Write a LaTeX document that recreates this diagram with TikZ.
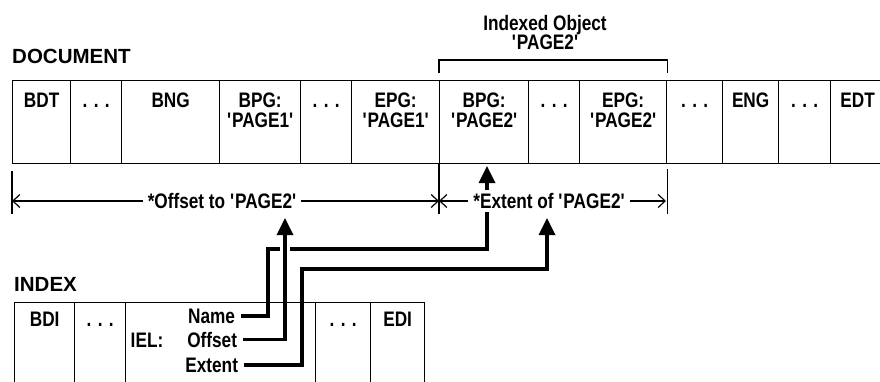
\documentclass[tikz,border=0pt]{standalone}
\usepackage{fontspec}
\setmainfont{Liberation Sans}
\newfontfamily\narrowsans{Liberation Sans}[FakeStretch=0.82]
\usetikzlibrary{positioning,arrows.meta}

\newcommand{\quoted}[1]{\textquotesingle#1'}

\begin{document}
\begin{tikzpicture}[
    x=1pt, y=-1pt,
    cell/.style={draw, line width=1.3pt, inner sep=0pt, minimum height=83pt, anchor=north west},
    icell/.style={draw, line width=1.3pt, inner sep=0pt, minimum height=100pt, anchor=north west},
    tag/.style={font=\narrowsans\bfseries\fontsize{21}{19.5}\selectfont, align=center, inner sep=0pt},
    field/.style={tag, outer xsep=6pt},
    heading/.style={font=\bfseries\fontsize{20.5}{20}\selectfont, inner sep=0pt, anchor=west},
    rule/.style={line width=1.2pt},
    dim/.style={line width=1.2pt, {Straight Barb[length=7pt,width=13pt]}-{Straight Barb[length=7pt,width=13pt]}},
    dimlabel/.style={tag, fill=white, inner xsep=5pt, inner ysep=3pt},
    link/.style={line width=3.4pt, -{Triangle[length=17pt,width=16pt]}},
    halo/.style={preaction={draw=white, line width=10pt, -}}
]
    \clip (0,0) rectangle (880,381);

    \node [heading] (doclbl) at (12,56) {DOCUMENT};
    \node [heading] (idxlbl) at (14,284) {INDEX};

    \node [cell, minimum width=58pt] (bdt) at (12,80) {};
    \node [cell, minimum width=51pt] (dotsa) at (70,80) {};
    \node [cell, minimum width=98pt] (bng) at (121,80) {};
    \node [cell, minimum width=81pt] (bpga) at (219,80) {};
    \node [cell, minimum width=51pt] (dotsb) at (300,80) {};
    \node [cell, minimum width=88pt] (epga) at (351,80) {};
    \node [cell, minimum width=89pt] (bpgb) at (439,80) {};
    \node [cell, minimum width=51pt] (dotsc) at (528,80) {};
    \node [cell, minimum width=87pt] (epgb) at (579,80) {};
    \node [cell, minimum width=56pt] (dotsd) at (666,80) {};
    \node [cell, minimum width=56pt] (eng) at (722,80) {};
    \node [cell, minimum width=52pt] (dotse) at (778,80) {};
    \node [cell, minimum width=70pt] (edt) at (830,80) {};

    \node [tag, below=13pt of bdt.north] {BDT};
    \node [tag, below=13pt of dotsa.north] {\vphantom{B}. . .};
    \node [tag, below=13pt of bng.north] {BNG};
    \node [tag, below=13pt of bpga.north] {BPG:\\\quoted{PAGE1}};
    \node [tag, below=13pt of dotsb.north] {\vphantom{B}. . .};
    \node [tag, below=13pt of epga.north] {EPG:\\\quoted{PAGE1}};
    \node [tag, below=13pt of bpgb.north] {BPG:\\\quoted{PAGE2}};
    \node [tag, below=13pt of dotsc.north] {\vphantom{B}. . .};
    \node [tag, below=13pt of epgb.north] {EPG:\\\quoted{PAGE2}};
    \node [tag, below=13pt of dotsd.north] {\vphantom{B}. . .};
    \node [tag, below=13pt of eng.north] {ENG};
    \node [tag, below=13pt of dotse.north] {\vphantom{B}. . .};
    \node [tag, below=13pt of edt.north, xshift=-8pt] {EDT};

    \draw [rule] ([yshift=7pt]bpgb.north west) -- ++(0,-13) -| ([yshift=7pt]epgb.north east);
    \node [tag, anchor=north] (idxobj) at (545,15) {Indexed Object\\\quoted{PAGE2}};

    \draw [rule] ([yshift=-7pt]bdt.south west) -- ++(0,43);
    \draw [rule] (bpgb.south west) -- ++(0,50);
    \draw [rule] ([yshift=-5pt]epgb.south east) -- ++(0,45);

    \coordinate (dl) at (12,201);
    \coordinate (dm) at (439,201);
    \coordinate (dr) at (666,201);
    \draw [dim] (dl) -- (dm);
    \draw [dim] (dm) -- (dr);

    \node [tag, anchor=base] (iellbl) at (147,347) {IEL:};
    \node [field, anchor=base east] (name) at (241,323) {Name};
    \node [field, anchor=base east] (offset) at (243,347) {Offset};
    \node [field, anchor=base east] (extent) at (244,372) {Extent};

    \coordinate (nametip) at (487,166);
    \coordinate (offtip) at (285,218);
    \coordinate (exttip) at (547,218);
    \draw [link] (name.east) -| (268,249) -| (nametip);
    \draw [link] (extent.east) -| (302,269) -| (exttip);
    \draw [link, halo] (offset.east) -| (offtip);

    \node [icell, minimum width=60pt] (bdi) at (14,302) {};
    \node [icell, minimum width=51pt] (idotsa) at (74,302) {};
    \node [icell, minimum width=190pt] (iel) at (125,302) {};
    \node [icell, minimum width=55pt] (idotsb) at (315,302) {};
    \node [icell, minimum width=54pt] (edi) at (370,302) {};

    \node [tag, below=10pt of bdi.north] {BDI};
    \node [tag, below=10pt of idotsa.north] {\vphantom{B}. . .};
    \node [tag, below=10pt of idotsb.north] {\vphantom{B}. . .};
    \node [tag, below=10pt of edi.north] {EDI};

    \node [dimlabel] (offlbl) at (222,201) {*Offset to \quoted{PAGE2}};
    \node [dimlabel] (extlbl) at (549,201) {*Extent of \quoted{PAGE2}};
\end{tikzpicture}
\end{document}
